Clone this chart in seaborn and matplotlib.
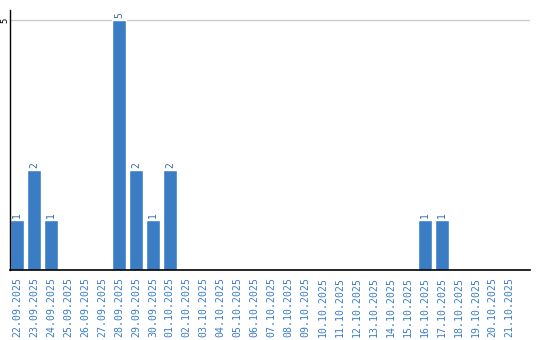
import matplotlib
matplotlib.use("Agg")
import matplotlib.pyplot as plt
import seaborn as sns
import pandas as pd

dates = ["22.09.2025", "23.09.2025", "24.09.2025", "25.09.2025", "26.09.2025",
         "27.09.2025", "28.09.2025", "29.09.2025", "30.09.2025", "01.10.2025",
         "02.10.2025", "03.10.2025", "04.10.2025", "05.10.2025", "06.10.2025",
         "07.10.2025", "08.10.2025", "09.10.2025", "10.10.2025", "11.10.2025",
         "12.10.2025", "13.10.2025", "14.10.2025", "15.10.2025", "16.10.2025",
         "17.10.2025", "18.10.2025", "19.10.2025", "20.10.2025", "21.10.2025"]
counts = [1, 2, 1, 0, 0, 0, 5, 2, 1, 2,
          0, 0, 0, 0, 0, 0, 0, 0, 0, 0,
          0, 0, 0, 0, 1, 1, 0, 0, 0, 0]

sns.set_style("white")
plt.rcParams['font.family'] = ['DejaVu Sans Mono', 'DejaVu Sans']

df = pd.DataFrame({"date": dates, "count": counts})
blue = "#3b7dc4"

fig = plt.figure(figsize=(5.4, 3.4), dpi=100)
ax = fig.add_axes([10/540, 70/340, 520/540, 260/340])
sns.barplot(data=df, x="date", y="count", color=blue, saturation=1, width=0.82, ax=ax)

ax.set_ylim(0, 5.2)
ax.set_xlim(-0.41, 30.2)
ax.set_yticks([5])
ax.set_yticklabels(["5"], rotation=90, va="center", ha="center", fontsize=6.5, color="black")
ax.axhline(5, color="#cccccc", lw=1, zorder=0)
ax.tick_params(axis="y", length=0, pad=4)
ax.tick_params(axis="x", length=0, pad=5)
ax.set_xticks(range(len(dates)))
ax.set_xticklabels(dates, rotation=90, fontsize=7.1, color=blue)
ax.set_xlabel("")
ax.set_ylabel("")

for s in ["top", "right"]:
    ax.spines[s].set_visible(False)
ax.spines["left"].set_color("black")
ax.spines["bottom"].set_color("black")
ax.spines["left"].set_linewidth(1)
ax.spines["bottom"].set_linewidth(1.2)

for i, v in enumerate(counts):
    if v > 0:
        ax.text(i, v + 0.05, str(v), rotation=90, ha="center", va="bottom",
                fontsize=7, color="#3a6ea5")

fig.savefig("out.png", dpi=100)
